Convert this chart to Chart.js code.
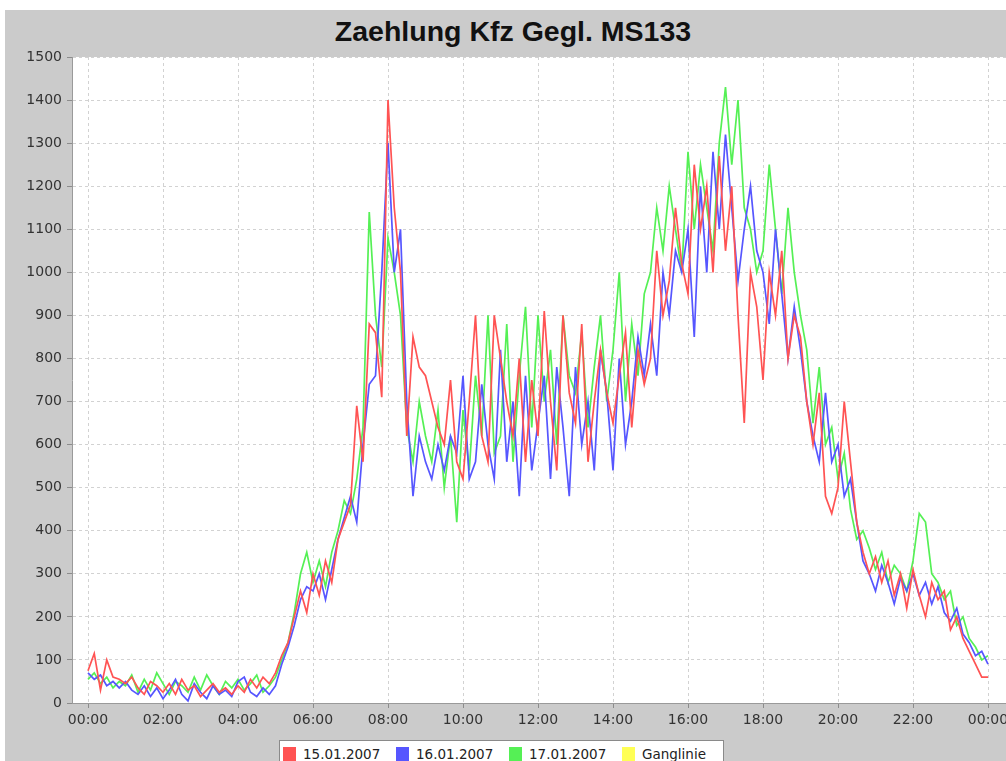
<!DOCTYPE html>
<html lang="de">
<head>
  <meta charset="UTF-8">
  <title>Zaehlung Kfz Gegl. MS133</title>
  <style>
    html, body {
      margin: 0;
      padding: 0;
      background: #ffffff;
      overflow: hidden;
      width: 1006px;
      height: 761px;
    }

    #frame {
      position: absolute;
      left: 5px;
      top: 10px;
      width: 1001px;
      height: 751px;
      background: #cbcbcb;
    }

    #title {
      position: absolute;
      left: 0;
      top: 15px;
      width: 1026px;
      text-align: center;
      font-family: 'Liberation Sans', Arial, sans-serif;
      font-weight: bold;
      font-size: 28.5px;
      color: #111;
    }

    #wrap {
      position: absolute;
      left: 0;
      top: 0;
      width: 1006px;
      height: 761px;
      overflow: hidden;
    }

    #legend {
      position: absolute;
      left: 279px;
      top: 740px;
      width: 443px;
      height: 30px;
      background: #fff;
      border: 1px solid #8a8a8a;
      font-family: 'DejaVu Sans', sans-serif;
      font-size: 13.5px;
      color: #222;
    }

    .item {
      position: absolute;
      top: 5px;
      white-space: nowrap;
    }

    .item span.box {
      display: inline-block;
      width: 13px;
      height: 14px;
      vertical-align: -2px;
      margin-right: 7px;
    }
  </style>

  <script src="https://cdn.jsdelivr.net/npm/chart.js"></script>
</head>
<body>
  <div id="frame"></div>
  <div id="title">Zaehlung Kfz Gegl. MS133</div>
  <div id="wrap">
    <canvas id="chart" width="1020" height="761"></canvas>
  </div>
  <div id="legend"></div>

  <script>
    // 10-Minuten-Werte, 00:00 bis 24:00 (je Zeile eine Stunde)
    const stepMinutes = 10;
    const xTicks = [0, 2, 4, 6, 8, 10, 12, 14, 16, 18, 20, 22, 24];
    const yTicks = { min: 0, max: 1500, step: 100 };

    const names = ['15.01.2007', '16.01.2007', '17.01.2007', 'Ganglinie'];
    const colors = ['#ff5353', '#5656ff', '#55f055', '#ffff55'];

    const day15 = [
      75, 115, 30, 100, 60, 55,
      45, 60, 35, 20, 50, 40,
      25, 45, 20, 55, 30, 40,
      15, 30, 45, 25, 35, 20,
      40, 25, 55, 35, 60, 45,
      70, 110, 140, 200, 260, 210,
      300, 250, 330, 280, 380, 420,
      460, 690, 560, 880, 860, 710,
      1400, 1150, 1000, 620, 850, 780,
      760, 700, 640, 600, 750, 560,
      520, 700, 900, 620, 560, 900,
      800, 700, 620, 800, 560, 750,
      620, 910, 700, 540, 900, 720,
      650, 880, 560, 700, 820, 720,
      650, 760, 860, 640, 820, 740,
      800, 1050, 900, 980, 1150, 1020,
      950, 1250, 1100, 1200, 1000, 1270,
      1050, 1200, 900, 650, 1000, 920,
      750, 1000, 900, 1050, 800, 900,
      850, 700, 600, 720, 480, 440,
      500, 700, 560, 420, 350, 300,
      340, 280, 330, 250, 300, 220,
      310, 250, 200, 280, 240, 260,
      170, 200, 150, 120, 90, 60,
      60
    ];

    const day16 = [
      70, 55, 65, 40, 50, 35,
      50, 30, 20, 40, 15, 35,
      10, 30, 55, 20, 5, 45,
      25, 10, 40, 20, 30, 15,
      50, 60, 25, 15, 35, 20,
      40, 90, 130, 180, 240, 270,
      260, 300, 240, 310, 380, 430,
      480, 420, 600, 740, 760, 1000,
      1300, 1000, 1100, 700, 480, 620,
      560, 520, 600, 540, 620, 580,
      760, 520, 560, 740, 600, 520,
      820, 560, 700, 480, 760, 540,
      650, 760, 520, 780, 640, 480,
      780, 600, 700, 540, 820, 720,
      540, 800, 600, 700, 850, 760,
      880, 760, 1000, 900, 1050, 1000,
      1100, 850, 1200, 1000, 1280, 1100,
      1320, 1150, 980, 1100, 1200, 1050,
      1000, 880, 1100, 950, 800, 920,
      820, 700, 620, 560, 720, 560,
      600, 480, 520, 420, 330, 300,
      260, 320, 280, 230, 290, 260,
      300, 250, 280, 230, 270, 210,
      190, 220, 160, 140, 110, 120,
      90
    ];

    const day17 = [
      55, 70, 45, 60, 35, 50,
      40, 65, 25, 55, 30, 70,
      45, 20, 50, 40, 25, 60,
      30, 65, 40, 20, 50, 35,
      55, 30, 45, 65, 25, 40,
      60, 100, 140, 210, 300, 350,
      280, 330, 270, 350, 400, 470,
      440, 520, 640, 1140, 900, 780,
      1080, 1000, 900, 640, 560, 700,
      620, 560, 680, 500, 620, 420,
      680, 540, 760, 620, 900, 580,
      620, 880, 560, 760, 920, 640,
      900, 700, 820, 600, 900, 760,
      720, 860, 640, 780, 900, 700,
      820, 1000, 700, 880, 760, 950,
      1000, 1150, 1050, 1200, 1100, 1000,
      1280, 1100, 1250, 1150, 1050, 1300,
      1430, 1250, 1400, 1150, 1100, 1000,
      1050, 1250, 1100, 950, 1150, 1000,
      900, 820, 650, 780, 600, 640,
      520, 580, 450, 380, 400, 360,
      310, 350, 280, 320, 300, 260,
      330, 440, 420, 300, 280, 240,
      260, 180, 200, 150, 130, 100,
      110
    ];

    const ganglinie = [];

    function toPoints(values) {
      return values.map((v, i) => ({ x: i * stepMinutes / 60, y: v }));
    }

    function hhmm(h) {
      const hh = Math.floor(h) % 24;
      return String(hh).padStart(2, '0') + ':00';
    }

    const series = [day15, day16, day17, ganglinie];

    const datasets = series.map((values, i) => ({
      label: names[i],
      data: toPoints(values),
      borderColor: colors[i],
      backgroundColor: colors[i],
      borderWidth: 1.7,
      pointRadius: 0,
      tension: 0,
      fill: false
    }));

    // weisser Plotbereich
    const plotBackground = {
      id: 'plotBackground',
      beforeDraw(chart) {
        const a = chart.chartArea;
        const c = chart.ctx;
        c.save();
        c.fillStyle = '#ffffff';
        c.fillRect(a.left, a.top, a.right - a.left, a.bottom - a.top);
        c.restore();
      }
    };

    const tickFont = { family: 'DejaVu Sans', size: 14 };

    const ctx = document.getElementById('chart').getContext('2d');
    const chart = new Chart(ctx, {
      type: 'line',
      data: { datasets: datasets },
      plugins: [plotBackground],
      options: {
        responsive: false,
        animation: false,
        devicePixelRatio: 1,
        layout: { padding: { top: 57, right: 14, left: 0, bottom: 0 } },
        plugins: {
          legend: { display: false },
          title: { display: false },
          tooltip: { enabled: false }
        },
        scales: {
          x: {
            type: 'linear',
            min: -0.4267,
            max: 24.48,
            afterBuildTicks: (scale) => {
              scale.ticks = xTicks.map(v => ({ value: v }));
            },
            afterFit: (scale) => { scale.height = 58; },
            ticks: {
              callback: (v) => hhmm(v),
              font: tickFont,
              color: '#333',
              maxRotation: 0,
              autoSkip: false,
              padding: 4
            },
            grid: {
              color: '#d2d2d2',
              lineWidth: 1,
              tickLength: 5,
              tickColor: '#8c8c8c'
            },
            border: { display: true, color: '#9a9a9a', dash: [3, 3] }
          },
          y: {
            min: yTicks.min,
            max: yTicks.max,
            afterFit: (scale) => { scale.width = 72; },
            ticks: {
              stepSize: yTicks.step,
              callback: (v) => String(v),
              font: tickFont,
              color: '#333',
              padding: 5
            },
            grid: {
              color: '#d2d2d2',
              lineWidth: 1,
              tickLength: 5,
              tickColor: '#8c8c8c'
            },
            border: { display: true, color: '#9a9a9a', dash: [3, 3] }
          }
        }
      }
    });

    // Legende unten (weisse Box wie im Original)
    const legend = document.getElementById('legend');
    chart.data.datasets.forEach((ds, i) => {
      const item = document.createElement('div');
      item.className = 'item';
      item.style.left = (3 + i * 113) + 'px';
      const box = document.createElement('span');
      box.className = 'box';
      box.style.background = ds.borderColor;
      item.appendChild(box);
      item.appendChild(document.createTextNode(ds.label));
      legend.appendChild(item);
    });
  </script>
</body>
</html>
